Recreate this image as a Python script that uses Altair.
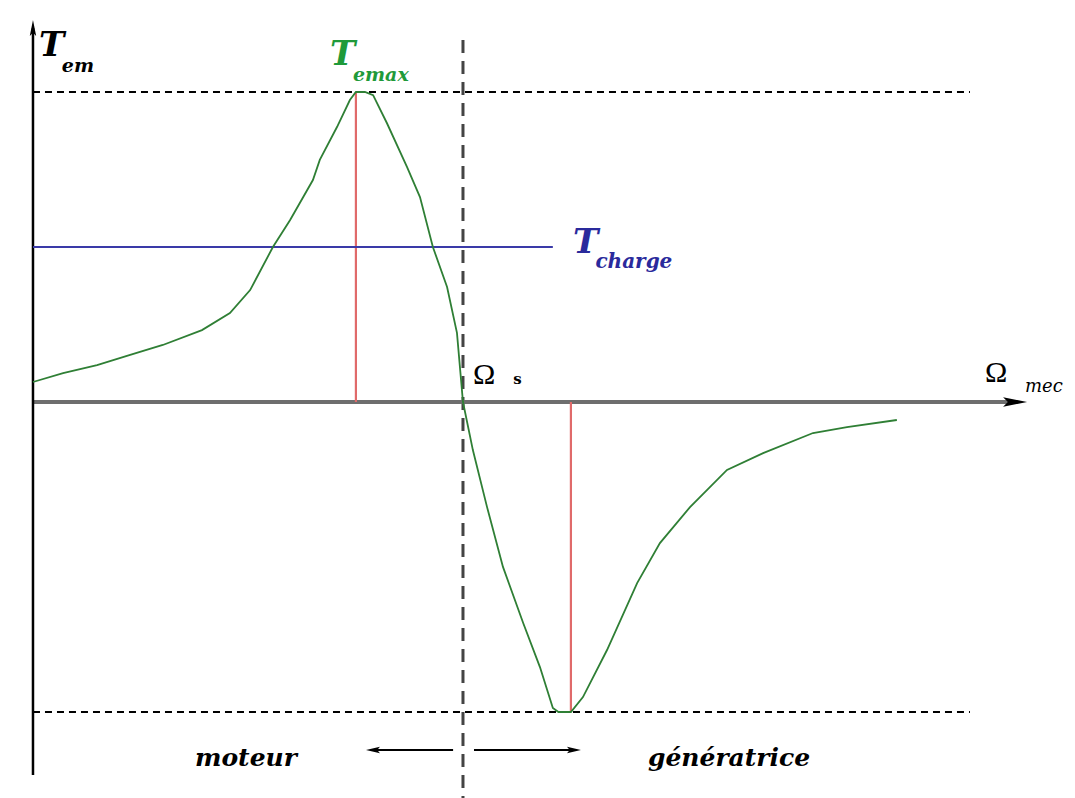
import altair as alt
import pandas as pd

# Torque-speed characteristic of an induction machine, in reduced units:
# speed divided by synchronous speed (Omega_s = 1), torque divided by T_emax.
omega = [0.0, 0.070, 0.149, 0.226, 0.302, 0.393, 0.458, 0.505, 0.558, 0.598,
         0.651, 0.667, 0.707, 0.737, 0.751, 0.772, 0.791, 0.823, 0.870, 0.900,
         0.930, 0.963, 0.986, 1.000, 1.023, 1.056, 1.093, 1.140, 1.179, 1.209,
         1.222, 1.251, 1.279, 1.335, 1.405, 1.458, 1.528, 1.614, 1.698, 1.814,
         1.893, 2.009]
torque = [0.0645, 0.0935, 0.119, 0.152, 0.184, 0.232, 0.287, 0.361, 0.500, 0.587,
          0.716, 0.781, 0.887, 0.974, 1.000, 1.000, 0.990, 0.900, 0.758, 0.661,
          0.500, 0.371, 0.223, 0.000, -0.155, -0.339, -0.532, -0.713, -0.855, -0.987,
          -1.000, -1.000, -0.952, -0.800, -0.584, -0.455, -0.339, -0.219, -0.165, -0.100,
          -0.081, -0.058]

T_MAX = 1.0          # motor pull-out torque
T_MIN = -1.0         # generator pull-out torque
T_CHARGE = 0.5       # load torque
OMEGA_S = 1.0        # synchronous speed
OMEGA_TMAX = 0.751   # speed at motor pull-out torque
OMEGA_TMIN = 1.251   # speed at generator pull-out torque

# extents of the drawing (reduced units)
X_DOMAIN = [-0.0767, 2.4233]
Y_DOMAIN = [-1.2774, 1.2968]
X_AXIS_END = 2.284
Y_AXIS_END = 1.2065
Y_AXIS_START = -1.2032
DASH_END = 2.179
VLINE_TOP = 1.1677
CHARGE_END = 1.209
ARROW_Y = -1.1226

SERIF = "DejaVu Serif"
OMEGA_FONT = "Liberation Serif"

xs = alt.Scale(domain=X_DOMAIN, nice=False, zero=False)
ys = alt.Scale(domain=Y_DOMAIN, nice=False, zero=False)


def X(f="x"):
    return alt.X(f"{f}:Q", scale=xs, axis=None)


def Y(f="y"):
    return alt.Y(f"{f}:Q", scale=ys, axis=None)


def hrule(y, x0, x1, **kw):
    df = pd.DataFrame({"x": [x0], "x2": [x1], "y": [y]})
    return alt.Chart(df).mark_rule(**kw).encode(x=X(), x2="x2:Q", y=Y())


def vrule(x, y0, y1, **kw):
    df = pd.DataFrame({"x": [x], "y": [y0], "y2": [y1]})
    return alt.Chart(df).mark_rule(**kw).encode(x=X(), y=Y(), y2="y2:Q")


def head(x, y, path, size, color="black"):
    df = pd.DataFrame({"x": [x], "y": [y]})
    return alt.Chart(df).mark_point(shape=path, size=size, filled=True, opacity=1,
                                    color=color, strokeWidth=0).encode(x=X(), y=Y())


def label(x, y, text, size, color="black", style="italic", weight="bold", font=SERIF):
    df = pd.DataFrame({"x": [x], "y": [y], "t": [text]})
    return alt.Chart(df).mark_text(align="left", baseline="alphabetic", font=font,
                                   fontSize=size, fontStyle=style, fontWeight=weight,
                                   color=color).encode(x=X(), y=Y(), text="t:N")


curve_df = pd.DataFrame({"x": omega, "y": torque, "i": range(len(omega))})
curve = alt.Chart(curve_df).mark_line(color="#2f7f35", strokeWidth=1.8).encode(
    x=X(), y=Y(), order="i:Q")

GREEN_T = "#1f9a3a"
BLUE = "#2a2a9c"

layers = [
    # reference levels
    hrule(T_MAX, 0, DASH_END, color="black", strokeWidth=1.8, strokeDash=[7, 5]),
    hrule(T_MIN, 0, DASH_END, color="black", strokeWidth=1.8, strokeDash=[7, 5]),
    vrule(OMEGA_S, VLINE_TOP, Y_DOMAIN[0], color="#444444", strokeWidth=3, strokeDash=[13, 8]),
    # axes
    hrule(0, 0, X_AXIS_END, color="#6e6e6e", strokeWidth=4),
    vrule(0, Y_AXIS_START, Y_AXIS_END, color="black", strokeWidth=2.5),
    head(X_AXIS_END, 0, "M1,0L-1,-0.4L-0.6,0L-1,0.4Z", 576),
    head(0, Y_AXIS_END, "M0,-1L0.4,1L0,0.6L-0.4,1Z", 256),
    # pull-out torque markers and load torque
    vrule(OMEGA_TMAX, 0, T_MAX, color="#e06a6a", strokeWidth=2.2),
    vrule(OMEGA_TMIN, 0, T_MIN, color="#e06a6a", strokeWidth=2.2),
    hrule(T_CHARGE, 0, CHARGE_END, color="#3a3aa8", strokeWidth=2),
    curve,
    # operating-mode arrows
    hrule(ARROW_Y, 0.977, 0.7907, color="black", strokeWidth=2),
    head(0.7907, ARROW_Y, "M-1,0L1,-0.45L0.6,0L1,0.45Z", 196),
    hrule(ARROW_Y, 1.0256, 1.2581, color="black", strokeWidth=2),
    head(1.2581, ARROW_Y, "M1,0L-1,-0.45L-0.6,0L-1,0.45Z", 196),
    # labels
    label(0.014, 1.1161, "T", 34),
    label(0.067, 1.0645, "em", 19),
    label(0.691, 1.087, "T", 34, color=GREEN_T),
    label(0.744, 1.0355, "emax", 19, color=GREEN_T),
    label(1.2558, 0.4806, "T", 34, color=BLUE),
    label(1.308, 0.4323, "charge", 20, color=BLUE),
    label(1.0233, 0.0581, "Ω", 30, style="normal", weight="normal", font=OMEGA_FONT),
    label(1.117, 0.0581, "s", 15, style="normal", weight="bold"),
    label(2.214, 0.0645, "Ω", 30, style="normal", weight="normal", font=OMEGA_FONT),
    label(2.307, 0.0323, "mec", 18, weight="normal"),
    label(0.3767, -1.1742, "moteur", 25),
    label(1.4302, -1.1742, "génératrice", 25),
]

chart = alt.layer(*layers).properties(
    width=1075, height=798, padding=0,
    autosize=alt.AutoSizeParams(type="none"),
    background="white",
).configure_view(stroke=None)

chart.save("out.html", embed_options={"renderer": "svg", "actions": False})
